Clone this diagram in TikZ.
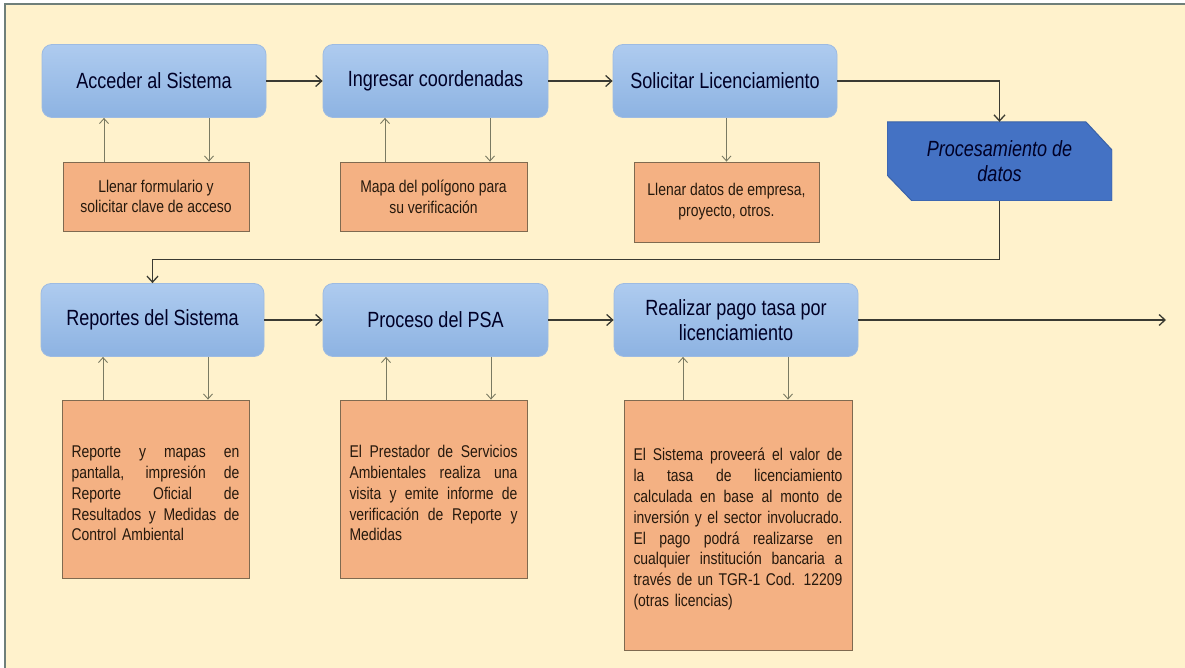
\documentclass[tikz,border=0pt]{standalone}
\usepackage{fontspec}
\setmainfont{Liberation Sans}[FakeStretch=0.82]
\usetikzlibrary{arrows.meta}
\definecolor{cream}{HTML}{FFF2CC}
\definecolor{framegray}{HTML}{6F7F7A}
\definecolor{bluetop}{HTML}{AECBEF}
\definecolor{bluebot}{HTML}{8DB3E2}
\definecolor{blueedge}{HTML}{9DBBE2}
\definecolor{procblue}{HTML}{4472C4}
\definecolor{procedge}{HTML}{3A62A8}
\definecolor{orangefill}{HTML}{F4B183}
\definecolor{orangeedge}{HTML}{7F6A50}
\definecolor{mainline}{HTML}{3A3A32}
\definecolor{subline}{HTML}{7A7A62}
\newcommand{\jline}[1]{\par\hbox to \hsize{\spaceskip=0.25em plus 1fil\relax #1}}
\newcommand{\lline}[1]{\par\hbox to \hsize{#1\hfil}}
\tikzset{
  stepbox/.style={rectangle, rounded corners=10pt, top color=bluetop, bottom color=bluebot,
    draw=blueedge, line width=0.8pt, minimum width=#1, minimum height=73pt, align=center,
    text=black!85!blue, font=\fontsize{22}{25}\selectfont},
  stepbox/.default=224pt,
  notebox/.style={rectangle, fill=orangefill, draw=orangeedge, line width=0.8pt,
    text=black!80!brown, font=\fontsize{17}{20.8}\selectfont, inner sep=0pt},
  flow/.style={draw=mainline, line width=1.3pt, -{Straight Barb[length=6pt,width=11pt]}},
  sub/.style={draw=subline, line width=0.9pt, -{Straight Barb[length=5pt,width=9pt]}}
}
\begin{document}
\begin{tikzpicture}[x=1pt,y=-1pt]
  \useasboundingbox (0,0) rectangle (1185,668);
  \fill[white] (0,0) rectangle (1185,668);
  \fill[cream] (5,4) rectangle (1185,668);
  \draw[framegray, line width=1.5pt] (5,668) -- (5,4) -- (1185,4);

  \node[stepbox] (acc) at (154,81) {Acceder al Sistema};
  \node[stepbox=225pt] (ing) at (435.5,81) {Ingresar coordenadas};
  \node[stepbox] (sol) at (725,81) {Solicitar Licenciamiento};
  \node[minimum width=225pt, minimum height=79pt, align=center, inner sep=0pt,
    text=black!85!blue, font=\fontsize{22}{25}\selectfont\itshape,
    path picture={\filldraw[fill=procblue, draw=procedge, line width=1pt]
      (path picture bounding box.north west) -- ([xshift=-26pt]path picture bounding box.north east)
      -- ([yshift=-28pt]path picture bounding box.north east) -- (path picture bounding box.south east)
      -- ([xshift=25pt]path picture bounding box.south west) -- ([yshift=26pt]path picture bounding box.south west)
      -- cycle;}] (proc) at (999.5,161.5) {Procesamiento de\\datos};

  \node[notebox, minimum width=186pt, minimum height=69pt, align=center] (o1) at (156,196.5)
    {Llenar formulario y\\solicitar clave de acceso};
  \node[notebox, minimum width=187pt, minimum height=69pt, align=center] (o2) at (433.5,196.5)
    {Mapa del polígono para\\su verificación};
  \node[notebox, minimum width=185pt, minimum height=80pt, align=center] (o3) at (726.5,202)
    {Llenar datos de empresa,\\proyecto, otros.};

  \node[stepbox=223pt] (rep) at (152.5,320) {Reportes del Sistema};
  \node[stepbox=225pt] (psa) at (435.5,320) {Proceso del PSA};
  \node[stepbox=244pt] (pago) at (736,320) {Realizar pago tasa por\\licenciamiento};
  \coordinate (fin) at (1166,320);

  \node[notebox, minimum width=187pt, minimum height=178pt, text width=168pt] (o4) at (155.5,489)
    {\jline{Reporte y mapas en}\jline{pantalla, impresión de}\jline{Reporte Oficial de}%
     \jline{Resultados y Medidas de}\lline{Control Ambiental}};
  \node[notebox, minimum width=187pt, minimum height=178pt, text width=168pt] (o5) at (433.5,489)
    {\jline{El Prestador de Servicios}\jline{Ambientales realiza una}\jline{visita y emite informe de}%
     \jline{verificación de Reporte y}\lline{Medidas}};
  \node[notebox, minimum width=228pt, minimum height=250pt, text width=209pt] (o6) at (738,525)
    {\jline{El Sistema proveerá el valor de}\jline{la tasa de licenciamiento}%
     \jline{calculada en base al monto de}\jline{inversión y el sector involucrado.}%
     \jline{El pago podrá realizarse en}\jline{cualquier institución bancaria a}%
     \jline{través de un TGR-1 Cod. 12209}\lline{(otras licencias)}};

  \draw[flow] (acc) -- (ing);
  \draw[flow] (ing) -- (sol);
  \draw[flow] (sol.east) -| (proc.north);
  \draw[flow] (proc.south) -- ++(0,58) -| (rep.north);
  \draw[flow] (rep) -- (psa);
  \draw[flow] (psa) -- (pago);
  \draw[flow] (pago) -- (fin);

  \draw[sub] (104,0 |- o1.north) -- (104,0 |- acc.south);
  \draw[sub] (209,0 |- acc.south) -- (209,0 |- o1.north);
  \draw[sub] (385,0 |- o2.north) -- (385,0 |- ing.south);
  \draw[sub] (490,0 |- ing.south) -- (490,0 |- o2.north);
  \draw[sub] (sol.south -| o3.north) -- (o3.north);
  \draw[sub] (103,0 |- o4.north) -- (103,0 |- rep.south);
  \draw[sub] (208,0 |- rep.south) -- (208,0 |- o4.north);
  \draw[sub] (386,0 |- o5.north) -- (386,0 |- psa.south);
  \draw[sub] (491,0 |- psa.south) -- (491,0 |- o5.north);
  \draw[sub] (683,0 |- o6.north) -- (683,0 |- pago.south);
  \draw[sub] (788,0 |- pago.south) -- (788,0 |- o6.north);
\end{tikzpicture}
\end{document}
